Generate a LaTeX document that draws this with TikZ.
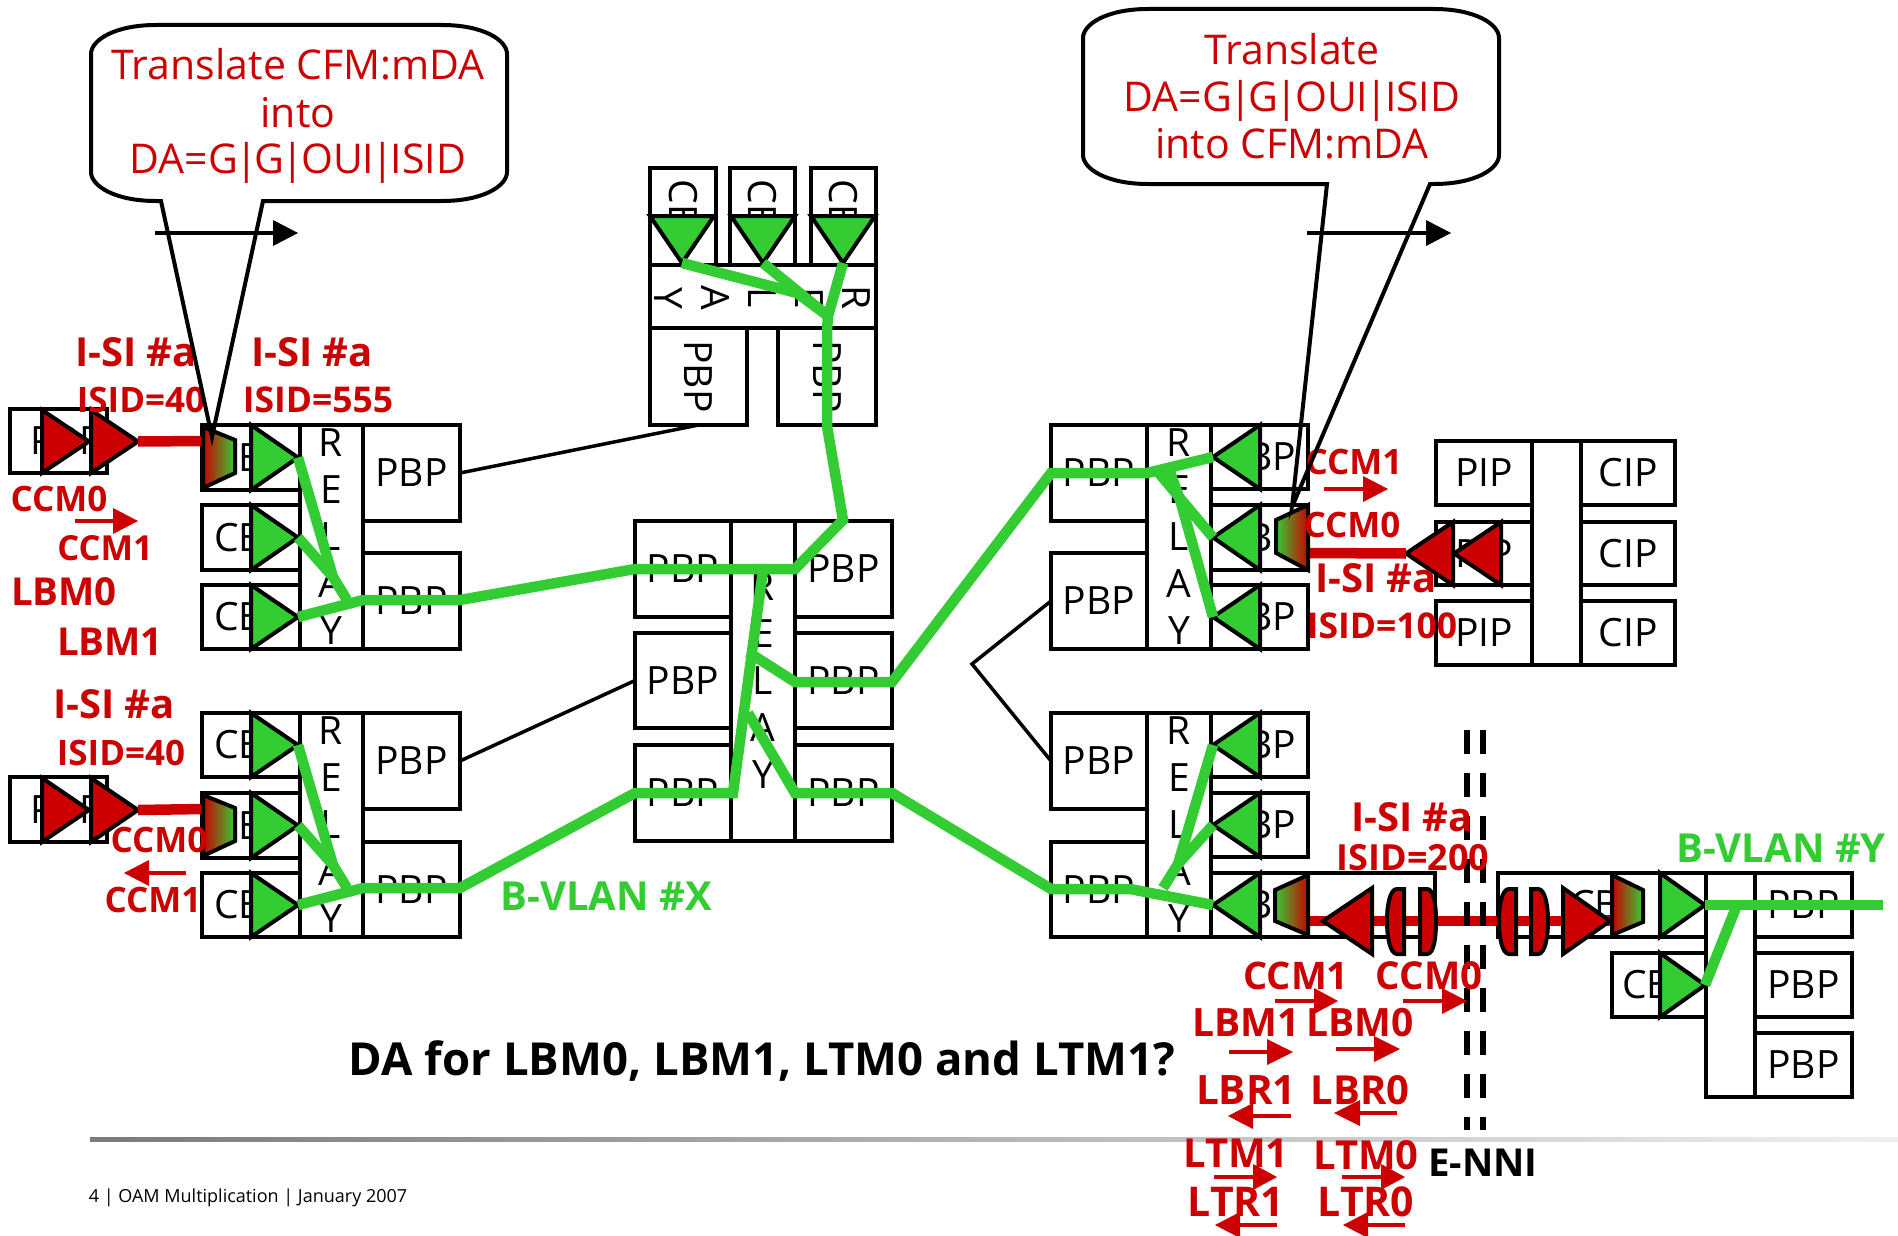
\documentclass[tikz,border=0pt]{standalone}
\usepackage{fontspec}
\setmainfont{Open Sans}
\definecolor{rd}{HTML}{CC0000}
\definecolor{gn}{HTML}{33CC33}
\newcommand{\fs}[1]{\fontsize{#1}{#1}\selectfont}
\newcommand{\vb}{\kern-3pt|\kern-3pt}
\tikzset{
  bx/.style={draw=black,line width=4pt,inner sep=0pt,outer sep=0pt,font=\fs{39},fill=white},
  tri/.style={draw=black,line width=4pt,line join=miter},
  gtri/.style={tri,fill=gn},
  rtri/.style={tri,fill=rd},
  trap/.style={draw=black,line width=4pt,line join=miter},
  glink/.style={draw=gn,line width=10.5pt,line join=miter},
  rlink/.style={draw=rd,line width=10.5pt},
  thin/.style={draw=black,line width=3.5pt},
  rarr/.style={draw=rd,fill=rd},
  lab/.style={inner sep=0pt,outer sep=0pt,text=rd,font=\bfseries\fs{#1}},
  glab/.style={inner sep=0pt,outer sep=0pt,text=gn,font=\bfseries\fs{40}},
  blab/.style={inner sep=0pt,outer sep=0pt,text=black,font=\bfseries\fs{#1}},
  ctext/.style={inner sep=0pt,outer sep=0pt,text=rd,font=\fs{41},anchor=base},
  relay/.style={inner sep=0pt,outer sep=0pt,font=\fontsize{39}{47}\selectfont,align=center},
  callout/.style={draw=black,line width=4pt,line join=miter},
}
% name x1 y1 x2 y2 text
\newcommand{\bx}[6]{\node[bx,minimum width={(#4-#2)*1pt},minimum height={(#5-#3)*1pt}] (#1) at ({(#2+#4)/2},{(#3+#5)/2}) {#6};}
\newcommand{\rbx}[6]{\node[bx,minimum width={(#5-#3)*1pt},minimum height={(#4-#2)*1pt},rotate=-90] (#1) at ({(#2+#4)/2},{(#3+#5)/2}) {#6};}
% tip-right triangle: name xbase ytop ybot width style
\newcommand{\triR}[6][gtri]{\draw[#1] (#3,#4) -- ({#3+#6},{(#4+#5)/2}) coordinate (#2) -- (#3,#5) -- cycle;}
\newcommand{\triL}[6][gtri]{\draw[#1] (#3,#4) -- ({#3-#6},{(#4+#5)/2}) coordinate (#2) -- (#3,#5) -- cycle;}
\newcommand{\triD}[4]{\draw[gtri] (#2,216) -- ({(#2+#3)/2},#4) coordinate (#1) -- (#3,216) -- cycle;}
% arrows: name, from x, to x, y, base x
\newcommand{\rarw}[5]{\coordinate (#1s) at (#2,#4); \coordinate (#1e) at (#3,#4);
  \draw[rarr,line width=4pt] (#1s) -- (#5,#4);
  \fill[rd] (#5,#4-13) -- (#1e) -- (#5,#4+13) -- cycle;}
\begin{document}
\begin{tikzpicture}[x=1pt,y=-1pt]
\useasboundingbox (0,0) rectangle (1898,1236);
\fill[white] (0,0) rectangle (1898,1236);

% footer rule
\shade[left color=black!52,right color=black!6] (90,1137) rectangle (1898,1141);

% --- left upper group
\bx{lpa}{10}{409}{107}{473}{\hspace*{16pt}PBP}
\bx{ca1}{202}{425}{300}{490}{CBP}
\bx{ca2}{202}{505}{300}{570}{CBP}
\bx{ca3}{202}{585}{300}{649}{CBP}
\bx{ra}{300}{425}{363}{649}{}
\node[relay] (ral) at (331,537) {R\\E\\L\\A\\Y};
\bx{pa1}{363}{425}{460}{521}{PBP}
\bx{pa2}{363}{553}{460}{649}{PBP}
\triR{ta1}{251}{425}{490}{47}
\triR{ta2}{251}{505}{570}{47}
\triR{ta3}{251}{585}{649}{47}

% --- left lower group
\bx{lpb}{10}{777}{107}{842}{\hspace*{16pt}PBP}
\bx{cb1}{202}{713}{300}{777}{CBP}
\bx{cb2}{202}{793}{300}{858}{CBP}
\bx{cb3}{202}{873}{300}{937}{CBP}
\bx{rb}{300}{713}{363}{937}{}
\node[relay] (rbl) at (331,825) {R\\E\\L\\A\\Y};
\bx{pb1}{363}{713}{460}{809}{PBP}
\bx{pb2}{363}{842}{460}{937}{PBP}
\triR{tb1}{251}{713}{777}{47}
\triR{tb2}{251}{793}{858}{47}
\triR{tb3}{251}{873}{937}{47}

% --- top group
\rbx{ct1}{650}{168}{716}{265}{CBP}
\rbx{ct2}{730}{168}{795}{265}{CBP}
\rbx{ct3}{811}{168}{876}{265}{CBP}
\bx{rt}{650}{265}{876}{328}{}
\node[relay,rotate=-90] (rtl) at (762,298) {R\\E\\L\\A\\Y};
\rbx{pt1}{650}{328}{747}{425}{PBP}
\rbx{pt2}{778}{328}{876}{425}{PBP}
\triD{tt1}{650}{714}{263}
\triD{tt2}{731}{795}{263}
\triD{tt3}{811}{875}{263}

% --- middle group
\bx{ml1}{635}{521}{731}{617}{PBP}
\bx{ml2}{635}{633}{731}{728}{PBP}
\bx{ml3}{635}{745}{731}{841}{PBP}
\bx{rm}{731}{521}{795}{841}{}
\node[relay] (rml) at (763,681) {R\\E\\L\\A\\Y};
\bx{mr1}{795}{521}{892}{617}{PBP}
\bx{mr2}{795}{633}{892}{728}{PBP}
\bx{mr3}{795}{745}{892}{841}{PBP}

% --- right upper group
\bx{qa1}{1051}{425}{1147}{521}{PBP}
\bx{qa2}{1051}{553}{1147}{649}{PBP}
\bx{sa}{1147}{425}{1211}{649}{}
\node[relay] (sal) at (1179,537) {R\\E\\L\\A\\Y};
\bx{da1}{1211}{425}{1308}{489}{CBP}
\bx{da2}{1211}{505}{1308}{570}{CBP}
\bx{da3}{1211}{585}{1308}{649}{CBP}
\triL{ua1}{1260}{425}{489}{47}
\triL{ua2}{1260}{505}{570}{47}
\triL{ua3}{1260}{585}{649}{47}

% --- PIP/CIP group
\bx{pip1}{1436}{441}{1532}{505}{PIP}
\bx{pip2}{1436}{522}{1532}{585}{PIP}
\bx{pip3}{1436}{601}{1532}{665}{PIP}
\bx{mc}{1532}{441}{1581}{665}{}
\bx{cip1}{1581}{441}{1675}{505}{CIP}
\bx{cip2}{1581}{522}{1675}{585}{CIP}
\bx{cip3}{1581}{601}{1675}{665}{CIP}

% --- right lower group
\bx{qb1}{1051}{713}{1147}{809}{PBP}
\bx{qb2}{1051}{842}{1147}{937}{PBP}
\bx{sb}{1147}{713}{1211}{937}{}
\node[relay] (sbl) at (1179,825) {R\\E\\L\\A\\Y};
\bx{db1}{1211}{713}{1308}{777}{CBP}
\bx{db2}{1211}{793}{1308}{857}{CBP}
\bx{db3}{1211}{873}{1308}{937}{CBP}
\bx{ex1}{1308}{873}{1435}{937}{}
\triL{ub1}{1260}{713}{777}{47}
\triL{ub2}{1260}{793}{857}{47}
\triL{ub3}{1260}{873}{937}{47}

% --- far right group
\bx{ex2}{1498}{873}{1612}{937}{}
\bx{fa1}{1612}{873}{1706}{937}{}
\node[inner sep=0pt,font=\fs{39}] (fat) at (1607,905) {CBP};
\bx{fa2}{1612}{953}{1706}{1017}{CBP}
\bx{sf}{1706}{873}{1755}{1097}{}
\bx{pf1}{1755}{873}{1852}{937}{PBP}
\bx{pf2}{1755}{953}{1852}{1017}{PBP}
\bx{pf3}{1755}{1033}{1852}{1097}{PBP}
\triR{tf1}{1660}{873}{937}{45}
\triR{tf2}{1660}{953}{1017}{45}

% --- thin connectors
\coordinate (vee) at (972,664);
\draw[thin] (pa1.east) -- (pt1.east);
\draw[thin] (pb1.east) -- (ml2.west);
\draw[thin] (qa2.west) -- (vee) -- (qb1.west);

% --- red service lines and their end triangles
\coordinate (xa) at (203,441); \coordinate (xb) at (203,809);
\coordinate (xc) at (1308,553); \coordinate (xd) at (1308,921);
\triR[rtri]{ra1}{42}{410}{473}{47}
\triR[rtri]{ra2}{91}{410}{473}{47}
\triR[rtri]{rb1}{42}{778}{842}{47}
\triR[rtri]{rb2}{91}{778}{842}{47}
\triL[rtri]{rc1}{1453}{522}{585}{47}
\triL[rtri]{rc2}{1501}{522}{585}{47}
\draw[rlink] (ra2) -- (xa);
\draw[rlink] (rb2) -- (xb);
\draw[rlink] (xc) -- (rc1);
\coordinate (xe) at (1610,921);
\draw[rlink] (xd) -- (xe);
\triL[rtri]{rd1}{1372}{888}{954}{49}
\triR[rtri]{rd2}{1563}{888}{954}{47}

% lenses
\draw[tri,fill=rd] (1404,889) -- (1397,889) .. controls (1390,889) and (1387,905) .. (1387,921) .. controls (1387,937) and (1390,954) .. (1397,954) -- (1404,954) -- cycle;
\draw[tri,fill=rd] (1420,889) -- (1427,889) .. controls (1434,889) and (1436,905) .. (1436,921) .. controls (1436,937) and (1434,954) .. (1427,954) -- (1420,954) -- cycle;
\draw[tri,fill=rd] (1516,889) -- (1509,889) .. controls (1502,889) and (1499,905) .. (1499,921) .. controls (1499,937) and (1502,954) .. (1509,954) -- (1516,954) -- cycle;
\draw[tri,fill=rd] (1531,889) -- (1538,889) .. controls (1545,889) and (1548,905) .. (1548,921) .. controls (1548,937) and (1545,954) .. (1538,954) -- (1531,954) -- cycle;

% --- gradient trapezoids
\draw[trap,left color=rd,right color=gn] (203,427) -- (235,440) -- (235,473) -- (203,488) -- cycle;
\draw[trap,left color=rd,right color=gn] (203,795) -- (235,808) -- (235,841) -- (203,856) -- cycle;
\draw[trap,left color=gn,right color=rd] (1308,505) -- (1276,520) -- (1276,553) -- (1308,570) -- cycle;
\draw[trap,left color=gn,right color=rd] (1308,875) -- (1275,890) -- (1275,921) -- (1308,935) -- cycle;
\draw[trap,left color=rd,right color=gn] (1612,875) -- (1643,890) -- (1643,922) -- (1612,935) -- cycle;

% --- green B-VLAN paths
\coordinate (ga) at (333,577); \coordinate (gb) at (347,600);
\coordinate (gc) at (363,600); \coordinate (gd) at (460,600);
\coordinate (ge) at (635,569); \coordinate (gf) at (795,569);
\coordinate (gg) at (843,520); \coordinate (gh) at (827,426);
\coordinate (gi) at (827,330); \coordinate (gj) at (828,316);
\coordinate (gk) at (797,293);
\draw[glink] (ta1) -- (ga) -- (gb);
\draw[glink] (ta2) -- (ga);
\draw[glink] (ta3) -- (gc) -- (gd) -- (ge) -- (gf) -- (gg) -- (gh) -- (gi) -- (gj);
\draw[glink] (tt1) -- (gk) -- (gj);
\draw[glink] (tt2) -- (gj);
\draw[glink] (tt3) -- (gj);

\coordinate (ha) at (333,865); \coordinate (hb) at (347,888);
\coordinate (hc) at (363,888); \coordinate (hd) at (460,888);
\coordinate (he) at (635,793); \coordinate (hf) at (733,793);
\coordinate (hg) at (763,570);
\draw[glink] (tb1) -- (ha) -- (hb);
\draw[glink] (tb2) -- (ha);
\draw[glink] (tb3) -- (hc) -- (hd) -- (he) -- (hf) -- (hg);

\coordinate (ia) at (748,652); \coordinate (ib) at (795,682);
\coordinate (ic) at (892,682); \coordinate (id) at (1051,473);
\coordinate (ie) at (1147,473);
\draw[glink] (ia) -- (ib) -- (ic) -- (id) -- (ie) -- (ua1);
\coordinate (if) at (1158,472); \coordinate (ig) at (1181,503);
\coordinate (ih) at (1170,472);
\draw[glink] (if) -- (ua2);
\draw[glink] (ih) -- (ig) -- (ua3);

\coordinate (ja) at (748,713); \coordinate (jb) at (795,793);
\coordinate (jc) at (892,793); \coordinate (jd) at (1051,889);
\coordinate (je) at (1130,889);
\draw[glink] (ja) -- (jb) -- (jc) -- (jd) -- (je) -- (ub3);
\coordinate (ka) at (1163,888); \coordinate (kb) at (1178,864);
\draw[glink] (ub1) -- (kb) -- (ka);
\draw[glink] (ub2) -- (kb);

\coordinate (la) at (1883,905); \coordinate (lb) at (1737,905);
\draw[glink] (tf1) -- (la);
\draw[glink] (tf2) -- (lb);

% --- E-NNI double dashed line
\coordinate (n1a) at (1467,730); \coordinate (n1b) at (1467,1130);
\coordinate (n2a) at (1483,730); \coordinate (n2b) at (1483,1130);
\draw[black,line width=6pt,dash pattern=on 24pt off 19pt] (n1a) -- (n1b);
\draw[black,line width=6pt,dash pattern=on 24pt off 19pt] (n2a) -- (n2b);

% --- red labels
\node[lab=40] (l01) at (136,352) {I-SI \#a};
\node[lab=35] (l02) at (141,400) {ISID=40};
\node[lab=40] (l03) at (312,352) {I-SI \#a};
\node[lab=35.5] (l04) at (318,400) {ISID=555};
\node[lab=35] (l05) at (59,499) {CCM0};
\node[lab=34.5] (l06) at (105,548) {CCM1};
\node[lab=38.5] (l07) at (64,592) {LBM0};
\node[lab=38.5] (l08) at (110,642) {LBM1};
\node[lab=40] (l09) at (114,704) {I-SI \#a};
\node[lab=35] (l10) at (121,753) {ISID=40};
\node[lab=35] (l11) at (159,840) {CCM0};
\node[lab=35] (l12) at (153,900) {CCM1};
\node[lab=35] (l13) at (1354,462) {CCM1};
\node[lab=35] (l14) at (1352,525) {CCM0};
\node[lab=40] (l15) at (1376,578) {I-SI \#a};
\node[lab=35.5] (l16) at (1382,626) {ISID=100};
\node[lab=40] (l17) at (1412,817) {I-SI \#a};
\node[lab=36] (l18) at (1413,858) {ISID=200};
\node[lab=38] (l19) at (1296,976) {CCM1};
\node[lab=38.5] (l20) at (1429,976) {CCM0};
\node[lab=39] (l21) at (1246,1023) {LBM1};
\node[lab=39] (l22) at (1360,1023) {LBM0};
\node[lab=40.5] (l23) at (1246,1090) {LBR1};
\node[lab=40] (l24) at (1360,1090) {LBR0};
\node[lab=40] (l25) at (1236,1153) {LTM1};
\node[lab=40] (l26) at (1366,1155) {LTM0};
\node[lab=41] (l27) at (1236,1202) {LTR1};
\node[lab=41] (l28) at (1366,1202) {LTR0};

% --- red arrows
\rarw{a01}{75}{138}{521}{113}
\rarw{a02}{186}{124}{873}{149}
\rarw{a03}{1324}{1388}{489}{1363}
\rarw{a04}{1275}{1338}{1001}{1314}
\rarw{a05}{1403}{1467}{1001}{1442}
\rarw{a06}{1229}{1293}{1052}{1267}
\rarw{a07}{1336}{1400}{1049}{1374}
\rarw{a08}{1291}{1228}{1116}{1253}
\rarw{a09}{1397}{1334}{1113}{1360}
\rarw{a10}{1214}{1277}{1177}{1253}
\rarw{a11}{1342}{1405}{1177}{1381}
\rarw{a12}{1277}{1215}{1225}{1240}
\rarw{a13}{1405}{1343}{1225}{1368}

% --- green and black labels
\node[glab] (v1) at (606,896) {B-VLAN \#X};
\node[glab] (v2) at (1781,848) {B-VLAN \#Y};
\node[blab=45.5,anchor=base] (q1) at (762,1075) {DA for LBM0, LBM1, LTM0 and LTM1?};
\node[blab=38.5] (q2) at (1483,1163) {E-NNI};
\node[inner sep=0pt,font=\fs{18},anchor=base] (ft) at (248,1202) {4 | OAM Multiplication | January 2007};

% --- callouts
\coordinate (t1) at (212,437); \coordinate (b1a) at (161,201); \coordinate (b1b) at (263,201);
\draw[callout] (t1) -- (b1a) -- (156,201)
  .. controls (115,201) and (91,186) .. (91,172) -- (91,54)
  .. controls (91,40) and (115,25) .. (156,25) -- (442,25)
  .. controls (483,25) and (507,40) .. (507,54) -- (507,172)
  .. controls (507,186) and (483,201) .. (442,201) -- (b1b) -- cycle;
\node[ctext] (c1a) at (298,80) {Translate CFM:mDA};
\node[ctext] (c1b) at (298,128) {into};
\node[ctext] (c1c) at (298,173) {DA=G\vb G\vb OUI\vb ISID};

\coordinate (t2) at (1292,507); \coordinate (b2a) at (1327,184); \coordinate (b2b) at (1430,184);
\draw[callout] (t2) -- (b2a) -- (1148,184)
  .. controls (1107,184) and (1083,169) .. (1083,155) -- (1083,38)
  .. controls (1083,24) and (1107,9) .. (1148,9) -- (1434,9)
  .. controls (1475,9) and (1499,24) .. (1499,38) -- (1499,155)
  .. controls (1499,169) and (1475,184) .. (1434,184) -- (b2b) -- cycle;
\node[ctext] (c2a) at (1292,65) {Translate};
\node[ctext] (c2b) at (1292,112) {DA=G\vb G\vb OUI\vb ISID};
\node[ctext] (c2c) at (1292,158) {into CFM:mDA};

% --- black arrows
\coordinate (k1s) at (155,233); \coordinate (k1e) at (298,233);
\coordinate (k2s) at (1307,233); \coordinate (k2e) at (1451,233);
\draw[black,line width=4pt] (k1s) -- (273,233);
\fill[black] (273,220) -- (k1e) -- (273,246) -- cycle;
\draw[black,line width=4pt] (k2s) -- (1426,233);
\fill[black] (1426,220) -- (k2e) -- (1426,246) -- cycle;
\end{tikzpicture}
\end{document}
